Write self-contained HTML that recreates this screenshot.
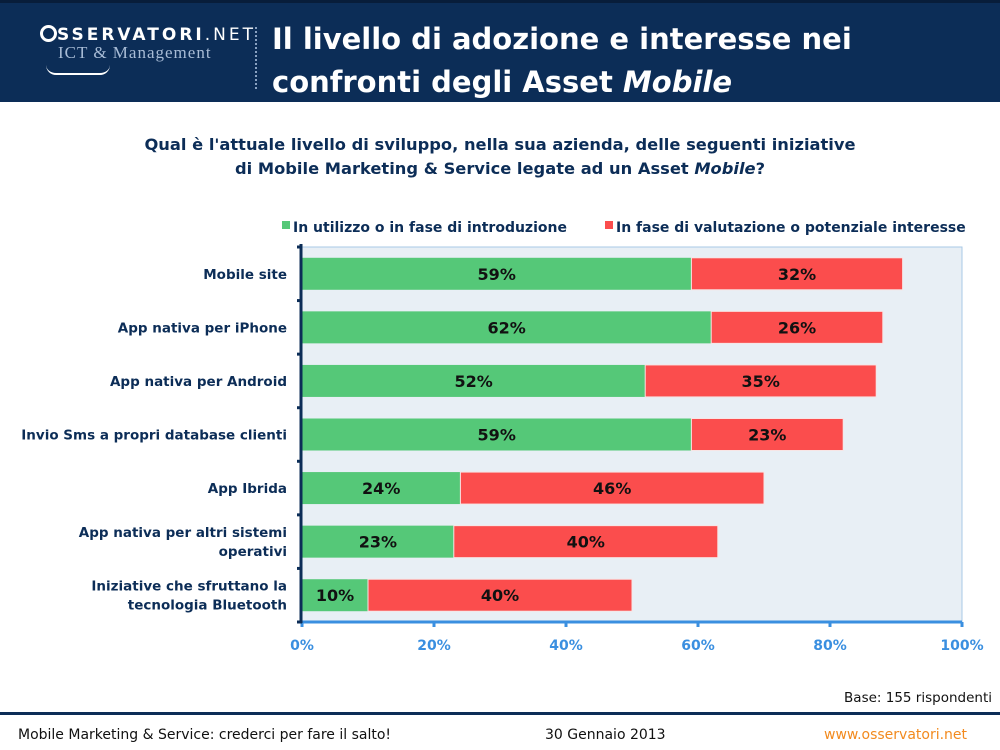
<!DOCTYPE html>
<html><head><meta charset="utf-8"><style>
body{margin:0;width:1000px;height:750px;background:#fff;font-family:"DejaVu Sans","Liberation Sans",sans-serif;overflow:hidden;position:relative}
.hdr{position:absolute;left:0;top:0;width:1000px;height:102px;background:#0c2d57;border-top:3px solid #081d3a;box-sizing:border-box}
.abs{position:absolute}
</style></head><body>
<div class="hdr">
  <div class="abs" style="left:40px;top:22px;color:#fff;font-size:17px;letter-spacing:3px;font-weight:bold">
    <span style="display:inline-block;width:11px;height:11px;border:3px solid #fff;border-radius:50%;vertical-align:-2px"></span>SSERVATORI<span style="font-weight:normal">.NET</span></div>
  <div class="abs" style="left:58px;top:40px;color:#a8bcd6;font-family:'Liberation Serif',serif;font-size:17px;letter-spacing:1px">ICT &amp; Management</div>
  <div class="abs" style="left:46px;top:62px;width:64px;height:8px;border-bottom:2px solid #fff;border-radius:0 0 40px 40px"></div>
  <div class="abs" style="left:255px;top:24px;height:62px;border-left:2px dotted #8aa2c2"></div>
  <div class="abs" style="left:272px;top:15px;color:#fff;font-size:29px;font-weight:bold;line-height:43px">Il livello di adozione e interesse nei<br>confronti degli Asset <i>Mobile</i></div>
</div>
<div class="abs" style="left:0;width:1000px;top:133px;text-align:center;color:#0c2d57;font-size:16.3px;font-weight:bold;line-height:24px">Qual è l'attuale livello di sviluppo, nella sua azienda, delle seguenti iniziative<br>di Mobile Marketing &amp; Service legate ad un Asset <i>Mobile</i>?</div>
<svg class="abs" style="left:0;top:0" width="1000" height="750">
<g id="chart"></g>
</svg>
<div class="abs" style="right:8px;top:690px;font-size:13.5px;color:#111">Base: 155 rispondenti</div>
<div class="abs" style="left:0;top:712px;width:1000px;height:3px;background:#0c2d57"></div>
<div class="abs" style="left:18px;top:727px;font-size:14px;color:#111">Mobile Marketing &amp; Service: crederci per fare il salto!</div>
<div class="abs" style="left:545px;top:727px;font-size:14px;color:#111">30 Gennaio 2013</div>
<div class="abs" style="left:824px;top:727px;font-size:14px;color:#f28a1e">www.osservatori.net</div>
<script>
const categories=[["Mobile site"],["App nativa per iPhone"],["App nativa per Android"],["Invio Sms a propri database clienti"],["App Ibrida"],["App nativa per altri sistemi","operativi"],["Iniziative che sfruttano la","tecnologia Bluetooth"]];
const inUse=[59,62,52,59,24,23,10];
const evaluating=[32,26,35,23,46,40,40];
const ticks=[0,20,40,60,80,100];
const seriesNames=["In utilizzo o in fase di introduzione","In fase di valutazione o potenziale interesse"];
const NS="http://www.w3.org/2000/svg";
const g=document.getElementById('chart');
const X0=302,X1=962,Y0=247,Y1=622;
const x=v=>X0+(X1-X0)*v/100;
const band=(Y1-Y0)/categories.length;
const yc=i=>Y0+band*(i+0.5);
function mk(t,a,p){const e=document.createElementNS(NS,t);for(const k in a)e.setAttribute(k,a[k]);(p||g).appendChild(e);return e;}
let bg=mk('rect',{x:X0,y:Y0,width:X1-X0,height:Y1-Y0,fill:'#e8eff5',stroke:'#a9c9e6','stroke-width':1});


categories.forEach((c,i)=>{
  const h=32,y=yc(i)-h/2;
  let r1=mk('rect',{x:x(0),y:y,width:x(inUse[i])-x(0),height:h,fill:'#55c878'});
  
  
  let r2=mk('rect',{x:x(inUse[i]),y:y,width:x(inUse[i]+evaluating[i])-x(inUse[i]),height:h,fill:'#fb4d4d',stroke:'#f7e5e5','stroke-width':1});
  
  
  let t1=mk('text',{x:(x(0)+x(inUse[i]))/2,y:yc(i)+6,'text-anchor':'middle','font-size':16,'font-weight':'bold',fill:'#111'});
  t1.textContent=inUse[i]+'%';
  
  
  let t2=mk('text',{x:(x(inUse[i])+x(inUse[i]+evaluating[i]))/2,y:yc(i)+6,'text-anchor':'middle','font-size':16,'font-weight':'bold',fill:'#111'});
  t2.textContent=evaluating[i]+'%';
  
  
  c.forEach((line,j)=>{
    let t=mk('text',{x:287,y:yc(i)+5+(j-(c.length-1)/2)*19,'text-anchor':'end','font-size':13.5,'font-weight':'bold',fill:'#0c2d57'});
    t.textContent=line;
    
    
  });
});
let ax=mk('line',{x1:X0,y1:Y1,x2:X1,y2:Y1,stroke:'#3a8fe0','stroke-width':3});


ticks.forEach(v=>{
  mk('line',{x1:x(v),y1:Y1,x2:x(v),y2:Y1+5,stroke:'#3a8fe0','stroke-width':3});
  let t=mk('text',{x:x(v),y:Y1+28,'text-anchor':'middle','font-size':14,'font-weight':'bold',fill:'#3a8fe0'});
  t.textContent=v+'%';
  
  
});
let ay=mk('line',{x1:X0-1,y1:Y0-3,x2:X0-1,y2:Y1+1,stroke:'#0c2d57','stroke-width':3});


for(let i=0;i<=categories.length;i++)mk('line',{x1:X0-5,y1:Y0+band*i,x2:X0,y2:Y0+band*i,stroke:'#0c2d57','stroke-width':3});
const lx=[282,605],cols=['#55c878','#fb4d4d'];
seriesNames.forEach((n,i)=>{
  let r=mk('rect',{x:lx[i],y:221,width:8,height:8,fill:cols[i]});
  
  
  let t=mk('text',{x:lx[i]+11,y:232,'font-size':14,'font-weight':'bold',fill:'#0c2d57'});
  t.textContent=n;
  
  
});
</script>
</body></html>
